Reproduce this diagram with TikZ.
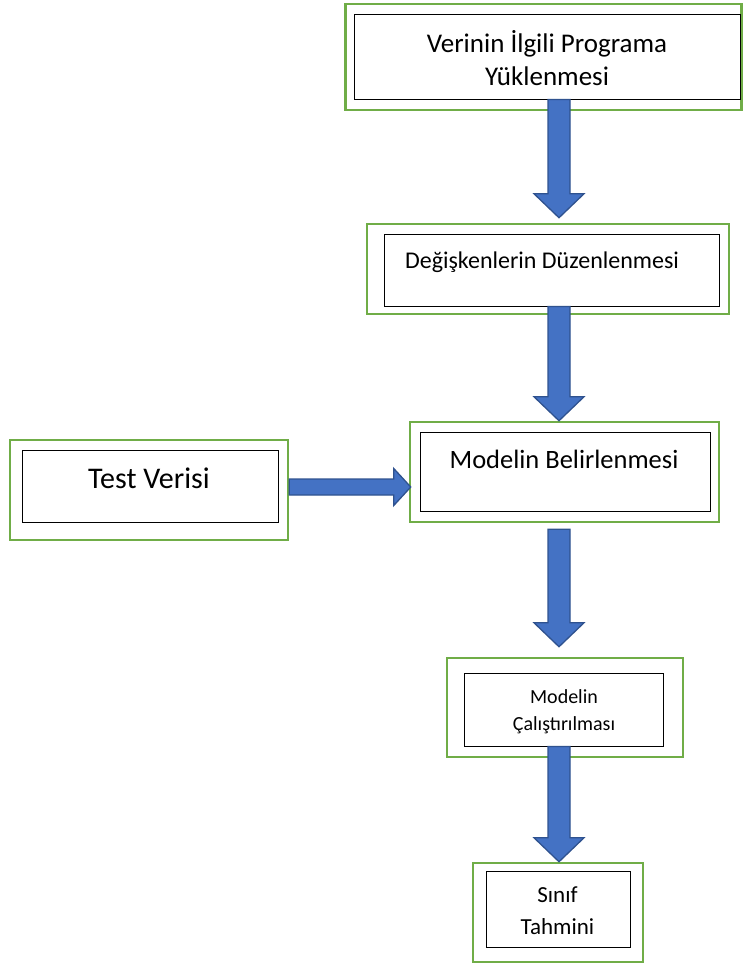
\documentclass[tikz,border=0pt]{standalone}
\usepackage{fontspec}
\setmainfont{Carlito}
\usetikzlibrary{calc}
\definecolor{yesil}{HTML}{70AD47}
\definecolor{okmavi}{HTML}{4472C4}
\definecolor{okkenar}{HTML}{2F528F}

\begin{document}
\begin{tikzpicture}[
  x=1pt, y=-1pt,
  dis/.style={draw=yesil, line width=2.5pt, inner sep=0pt},
  ic/.style={draw=black, line width=0.9pt, fill=white, inner sep=0pt},
  yazi/.style={align=center, inner sep=0pt},
  asagiok/.style={draw=okkenar, fill=okmavi, line width=1.3pt,
    to path={let \p1=(\tikztostart), \p2=(\tikztotarget) in
      (\x1-11pt,\y1) -- (\x1-11pt,\y2+24pt) -- (\x1-25pt,\y2+24pt) -- (\x1,\y2)
      -- (\x1+25pt,\y2+24pt) -- (\x1+11pt,\y2+24pt) -- (\x1+11pt,\y1) -- cycle}},
  sagaok/.style={draw=okkenar, fill=okmavi, line width=1.3pt,
    to path={let \p1=(\tikztostart), \p2=(\tikztotarget) in
      (\x1,\y1+8pt) -- (\x2-17pt,\y1+8pt) -- (\x2-17pt,\y1+18.5pt) -- (\x2,\y1)
      -- (\x2-17pt,\y1-18.5pt) -- (\x2-17pt,\y1-8pt) -- (\x1,\y1-8pt) -- cycle}}
]
\useasboundingbox (0,0) rectangle (742,963);
\coordinate (eksen) at (559,0);

% kutular
\node[dis, minimum width=396pt, minimum height=106pt] (yukleDis) at (543.5,57) {};
\node[ic, minimum width=386pt, minimum height=85pt] (yukle) at (547,56.5) {};
\node[yazi, font=\fontsize{27}{33}\selectfont] (yukleYazi) at (547,58)
  {Verinin İlgili Programa\\Yüklenmesi};

\node[dis, minimum width=362pt, minimum height=90pt] (degiskenDis) at (548,269) {};
\node[ic, minimum width=335pt, minimum height=72pt] (degisken) at (551.5,270) {};
\node[yazi, font=\fontsize{24}{29}\selectfont] (degiskenYazi) at (542,262.5)
  {Değişkenlerin Düzenlenmesi};

\node[dis, minimum width=309pt, minimum height=100pt] (modelDis) at (564.5,472) {};
\node[ic, minimum width=290pt, minimum height=79pt] (model) at (565,471.5) {};
\node[yazi, font=\fontsize{26.5}{32}\selectfont] (modelYazi) at (564,459)
  {Modelin Belirlenmesi};

\node[dis, minimum width=278pt, minimum height=100pt] (testDis) at (149,490) {};
\node[ic, minimum width=256pt, minimum height=72pt] (test) at (150,486) {};
\node[yazi, font=\fontsize{30}{36}\selectfont] (testYazi) at (149,478) {Test Verisi};

\node[dis, minimum width=236pt, minimum height=99pt] (calistirDis) at (565,707.5) {};
\node[ic, minimum width=199pt, minimum height=73pt] (calistir) at (563.5,709.5) {};
\node[yazi, font=\fontsize{20}{27}\selectfont] (calistirYazi) at (564,712)
  {Modelin\\Çalıştırılması};

\node[dis, minimum width=170pt, minimum height=99pt] (sinifDis) at (558,912.5) {};
\node[ic, minimum width=144pt, minimum height=76pt] (sinif) at (558,909) {};
\node[yazi, font=\fontsize{23}{32}\selectfont] (sinifYazi) at (557.5,911)
  {Sınıf\\Tahmini};

% oklar
\draw[asagiok] (yukle.south -| eksen) to ($(degiskenDis.north -| eksen)+(0,-5)$);
\draw[asagiok] (degisken.south -| eksen) to (modelDis.north -| eksen);
\draw[asagiok] ($(modelDis.south -| eksen)+(0,6)$) to ($(calistirDis.north -| eksen)+(0,-10)$);
\draw[asagiok] (calistir.south -| eksen) to (sinifDis.north -| eksen);
\draw[sagaok] ($(testDis.east)+(0,-3)$) to ($(modelDis.west)+(2,0)$);
\end{tikzpicture}
\end{document}
